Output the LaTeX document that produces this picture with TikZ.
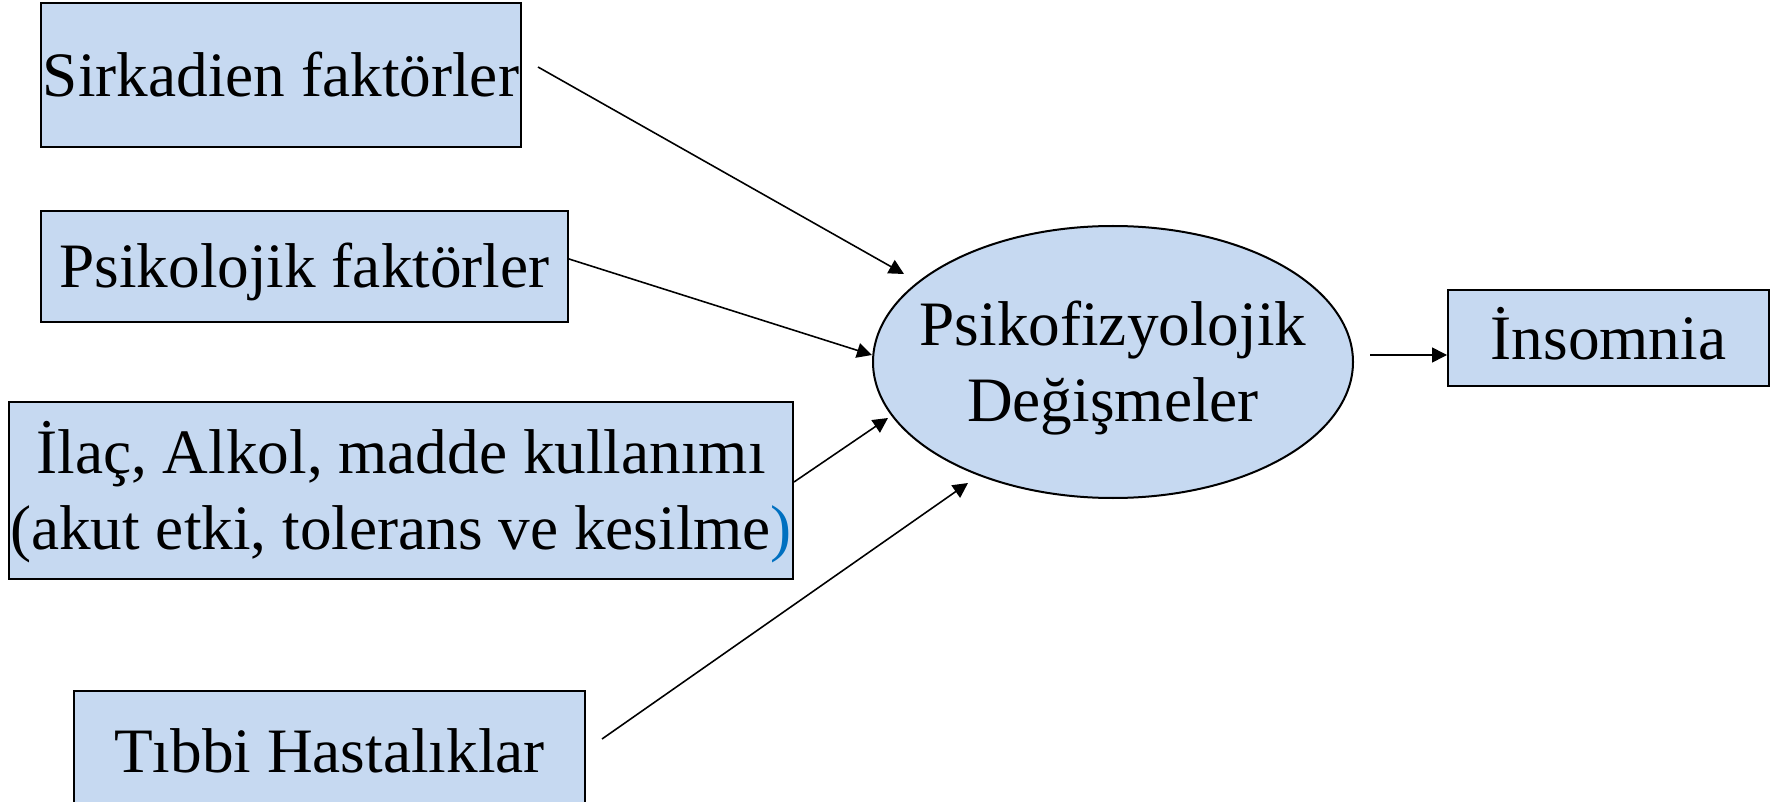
\documentclass[tikz,border=0pt]{standalone}
\usepackage{fontspec}
\setmainfont{Liberation Serif}
\usetikzlibrary{arrows.meta,calc,shapes.geometric}
\definecolor{boxfill}{RGB}{198,217,241}
\definecolor{parblue}{RGB}{0,112,192}
\newcommand{\bstr}{\rule[-0.22em]{0pt}{1.11em}}
\begin{document}
\begin{tikzpicture}[x=0.1mm,y=-0.1mm,
  every node/.style={font=\fontsize{18pt}{21.6pt}\selectfont, inner sep=0pt},
  fbox/.style={draw=black, line width=0.57pt, fill=boxfill, rectangle, align=center},
  fell/.style={draw=black, line width=0.57pt, fill=boxfill, ellipse},
  arr/.style={draw=black, line width=0.45pt, -{Triangle[length=1.5mm,width=1.5mm]}}]
\useasboundingbox (0,0) rectangle (1776,802);
\node[fbox, minimum width=48mm, minimum height=14.4mm] (s1) at (281,75) {\bstr Sirkadien faktörler};
\node[fbox, minimum width=52.7mm, minimum height=11.1mm] (s2) at (304.5,266.5) {\bstr Psikolojik faktörler};
\node[fbox, minimum width=78.4mm, minimum height=17.7mm] (s3) at (401,490.5) {\bstr İlaç, Alkol, madde kullanımı\\\bstr (akut etki, tolerans ve kesilme\textcolor{parblue}{)}};
\node[fbox, minimum width=51.1mm, minimum height=12.1mm] (s4) at (329.5,751.5) {\bstr Tıbbi Hastalıklar};
\node[fell, minimum width=48mm, minimum height=27.2mm] (pf) at (1113,362) {};
\node[align=center] (pft) at (pf) {\bstr Psikofizyolojik\\\bstr Değişmeler};
\node[fbox, minimum width=32.1mm, minimum height=9.6mm] (ins) at (1608.5,338) {\bstr İnsomnia};
\draw[arr] ($(s1.east)+(16,-8)$) -- ($(pf.center)+(-209,-88)$);
\draw[arr] ($(s2.east)+(0,-7.5)$) -- ($(pf.center)+(-241,-7)$);
\draw[arr] ($(s3.east)+(0,-8.5)$) -- ($(pf.center)+(-225,56)$);
\draw[arr] ($(s4.east)+(16,-12.5)$) -- ($(pf.center)+(-145,121)$);
\draw[arr] ($(pf.east)+(16,-7)$) -- ($(ins.west)+(0,17)$);
\end{tikzpicture}
\end{document}
